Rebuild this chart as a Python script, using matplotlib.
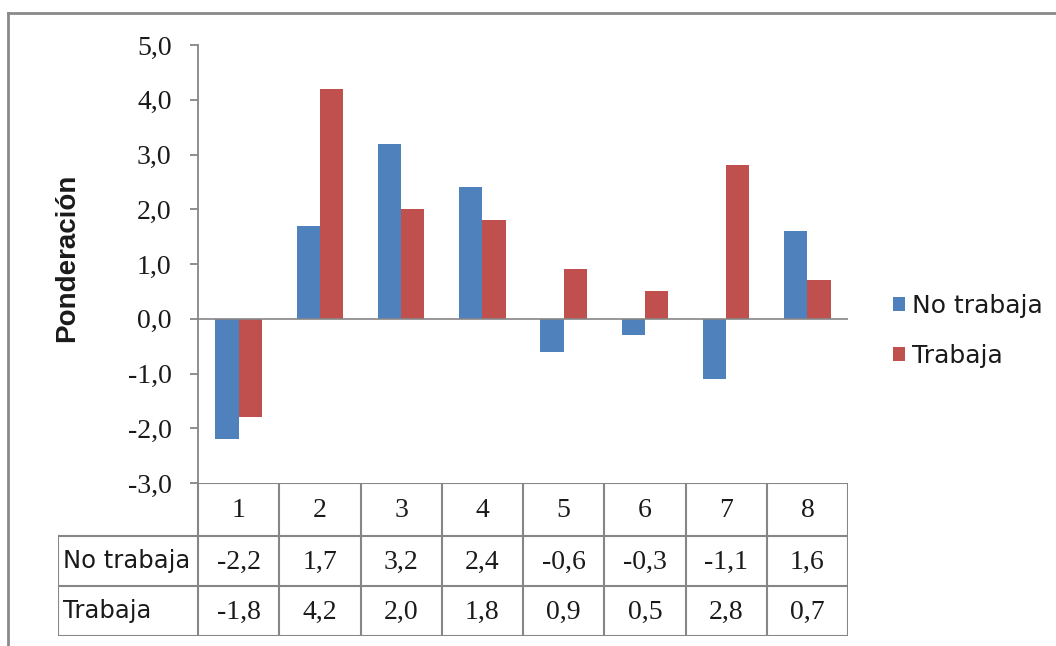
import matplotlib
matplotlib.use("Agg")
import matplotlib.pyplot as plt
import numpy as np
from matplotlib.lines import Line2D

categories = ["1", "2", "3", "4", "5", "6", "7", "8"]
series_names = ["No trabaja", "Trabaja"]
no_trabaja = [-2.2, 1.7, 3.2, 2.4, -0.6, -0.3, -1.1, 1.6]
trabaja = [-1.8, 4.2, 2.0, 1.8, 0.9, 0.5, 2.8, 0.7]
y_ticks = [-3.0, -2.0, -1.0, 0.0, 1.0, 2.0, 3.0, 4.0, 5.0]
y_label = "Ponderación"

BLUE = "#4F81BD"
RED = "#C0504D"
GRID = "#868686"
INK = "#1a1a1a"
NUM_FONT = "Liberation Serif"
TXT_FONT = "DejaVu Sans"

W, H = 1056, 646
fig = plt.figure(figsize=(W / 100, H / 100), dpi=100)


def fx(px):
    return px / W


def fy(py):
    return 1 - py / H


# plot area in pixel terms
L, R, T, B = 198, 848, 45, 483
ax = fig.add_axes([fx(L), fy(B), fx(R) - fx(L), fy(T) - fy(B)])
x = np.arange(len(categories))
width = 0.2857
b1 = ax.bar(x - width / 2, no_trabaja, width, color=BLUE, label=series_names[0])
b2 = ax.bar(x + width / 2, trabaja, width, color=RED, label=series_names[1])
ax.set_xlim(-0.5, len(categories) - 0.5)
ax.set_ylim(-3, 5)
ax.axhline(0, color=GRID, lw=1.2, zorder=3)
for s in ["top", "right", "bottom"]:
    ax.spines[s].set_visible(False)
ax.spines["left"].set_color(GRID)
ax.spines["left"].set_linewidth(1.3)
ax.set_xticks([])
ax.set_yticks(y_ticks)
ax.set_yticklabels([f"{v:.1f}".replace(".", ",") for v in y_ticks],
                   family=NUM_FONT, fontsize=20, color=INK)
ax.tick_params(axis="y", direction="out", length=6, width=1.3, color=GRID, pad=13)

fig.text(fx(67), fy(258), y_label, rotation=90, ha="center", va="center",
         fontsize=20, fontweight="bold", family="Liberation Sans", color=INK)

# data table below the plot
cat_px = (R - L) / len(categories)
label_w = L - 58
tax = fig.add_axes([fx(58), fy(636), fx(R) - fx(58), fy(B) - fy(636)])
x_left = -0.5 - label_w / cat_px
tax.set_xlim(x_left, len(categories) - 0.5)
tax.set_ylim(153, 0)
tax.axis("off")
rows = [0, 53, 103, 153]
lc = dict(color=GRID, lw=1.5, solid_capstyle="projecting")
tax.plot([-0.5, len(categories) - 0.5], [rows[0], rows[0]], **lc)
for r in rows[1:]:
    tax.plot([x_left, len(categories) - 0.5], [r, r], **lc)
for k in range(len(categories) + 1):
    tax.plot([k - 0.5, k - 0.5], [rows[0], rows[3]], **lc)
tax.plot([x_left, x_left], [rows[1], rows[3]], **lc)

for i, c in enumerate(categories):
    tax.text(i, (rows[0] + rows[1]) / 2 + 1, c, ha="center", va="center",
             family=NUM_FONT, fontsize=20, color=INK)
for vals, r0, r1, name in [(no_trabaja, rows[1], rows[2], series_names[0]),
                           (trabaja, rows[2], rows[3], series_names[1])]:
    for i, v in enumerate(vals):
        tax.text(i, (r0 + r1) / 2 + 1, f"{v:.1f}".replace(".", ","),
                 ha="center", va="center", family=NUM_FONT, fontsize=20, color=INK)
    tax.text(x_left + 5 / cat_px, (r0 + r1) / 2, name, ha="left", va="center",
             family=TXT_FONT, fontsize=17.5, color=INK)

# legend
leg = fig.legend(handles=[b1, b2], loc="center left",
                 bbox_to_anchor=(fx(893), fy(331)), bbox_transform=fig.transFigure,
                 frameon=False, prop={"family": TXT_FONT, "size": 18},
                 handlelength=0.48, handleheight=0.48, handletextpad=0.28,
                 labelspacing=1.05, borderaxespad=0, borderpad=0)
for t in leg.get_texts():
    t.set_color(INK)

# outer chart border
fig.add_artist(Line2D([fx(8), fx(8)], [fy(13), 0], color="#8a8a8a", lw=2))
fig.add_artist(Line2D([fx(8), 1], [fy(13), fy(13)], color="#8a8a8a", lw=2))

fig.savefig("out.png", dpi=100)
